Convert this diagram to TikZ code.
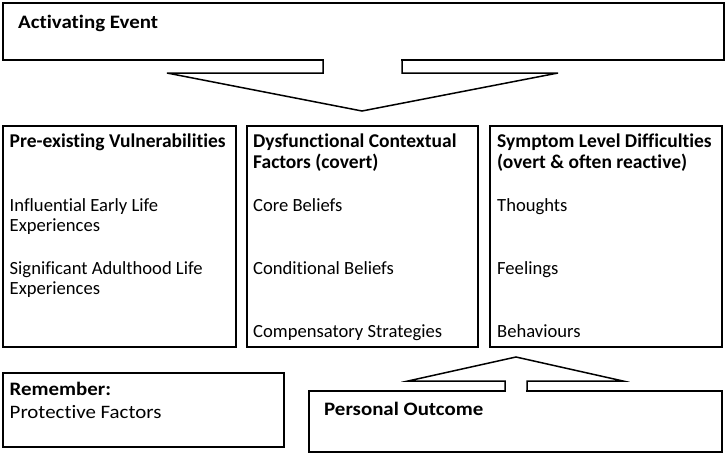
\documentclass[tikz,border=0pt]{standalone}
\usepackage{fontspec}
\setmainfont[Ligatures=NoCommon]{Carlito}
\newfontfamily\narrowfont[Ligatures=NoCommon,FakeStretch=1.1]{Carlito}
\begin{document}
\begin{tikzpicture}[x=1pt,y=-1pt,
  box/.style={draw=black,line width=1.5pt,fill=white},
  outl/.style={draw=black,line width=1.5pt,line join=miter},
  ttl/.style={anchor=base west,inner sep=0pt,font=\fontsize{19.5}{23}\selectfont\bfseries},
  txt/.style={anchor=base west,inner sep=0pt,font=\fontsize{18.6}{22}\selectfont},
  nttl/.style={anchor=base west,inner sep=0pt,font=\narrowfont\fontsize{19}{23}\selectfont\bfseries},
  ntxt/.style={anchor=base west,inner sep=0pt,font=\narrowfont\fontsize{19}{23}\selectfont}]
\useasboundingbox[fill=white] (0,0) rectangle (726,456);
% top box
\draw[box] (3,3) rectangle (724,60);
\node[nttl] (act) at (18,28) {Activating Event};
% down arrow
\fill[white] (323.75,58) rectangle (401.25,73);
\draw[outl] (323,60) -- (323,73) -- (167,73) -- (362,111) -- (558,73) -- (402,73) -- (402,60);
% three boxes
\draw[box] (3,126) rectangle (236,347);
\draw[box] (247,126) rectangle (478,347);
\draw[box] (490,126) rectangle (722,347);
\node[ttl] (pv) at (9.5,147) {Pre-existing Vulnerabilities};
\node[txt] (ie1) at (9.5,211) {Influential Early Life};
\node[txt] (ie2) at (9.5,231) {Experiences};
\node[txt] (sa1) at (9.5,274) {Significant Adulthood Life};
\node[txt] (sa2) at (9.5,294) {Experiences};
\node[ttl] (dc1) at (253,147) {Dysfunctional Contextual};
\node[ttl] (dc2) at (253,168) {Factors (covert)};
\node[txt] (cb) at (253,211) {Core Beliefs};
\node[txt] (cd) at (253,274) {Conditional Beliefs};
\node[txt] (cs) at (253,337) {Compensatory Strategies};
\node[ttl] (sl1) at (497,147) {Symptom Level Difficulties};
\node[ttl] (sl2) at (497,168) {(overt \& often reactive)};
\node[txt] (th) at (497,211) {Thoughts};
\node[txt] (fe) at (497,274) {Feelings};
\node[txt] (be) at (497,337) {Behaviours};
% bottom boxes
\draw[box] (3,373) rectangle (284,447);
\node[nttl] (rem) at (9.5,395) {Remember:};
\node[ntxt] (pf) at (9.5,418) {Protective Factors};
\draw[box] (309,391) rectangle (722,452);
\node[nttl] (po) at (324,415) {Personal Outcome};
% up arrow
\fill[white] (505.75,380) rectangle (526.25,392.5);
\draw[outl] (505,391) -- (505,381) -- (408,381) -- (516,357) -- (623,381) -- (527,381) -- (527,391);
\end{tikzpicture}
\end{document}
